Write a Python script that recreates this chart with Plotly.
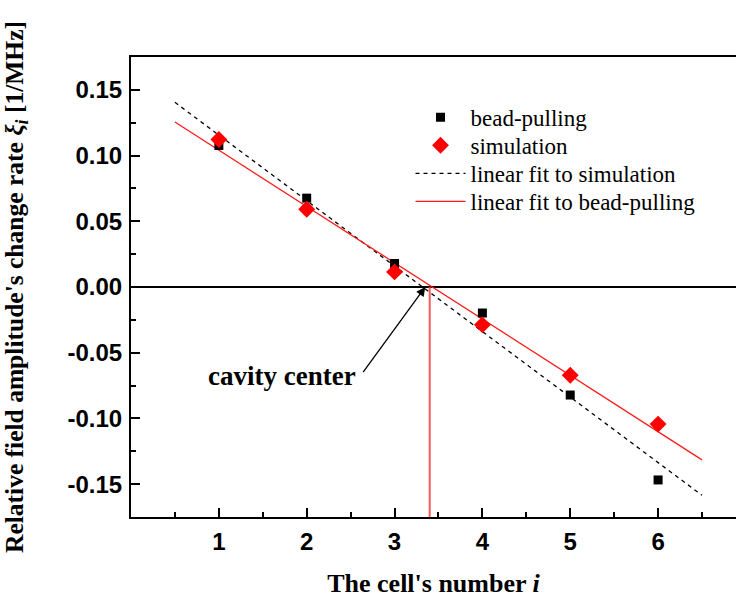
import plotly.graph_objects as go

# Cell index
cells = [1, 2, 3, 4, 5, 6]

# Relative field amplitude change rate per cell [1/MHz]
bead_pulling = [0.1077, 0.0676, 0.0179, -0.0198, -0.0822, -0.1468]
simulation = [0.1122, 0.0592, 0.0115, -0.0288, -0.0672, -0.1043]

# Linear fit lines, evaluated at both ends of the fit span
fit_x = [0.5, 6.5]
fit_sim_y = [0.1405, -0.1585]
fit_bead_y = [0.1255, -0.1315]

# Position of the cavity center along the cell axis
cavity_center_x = 3.4

y_ticks = [-0.15, -0.10, -0.05, 0.00, 0.05, 0.10, 0.15]
y_tick_text = ["-0.15", "-0.10", "-0.05", "0.00", "0.05", "0.10", "0.15"]
x_ticks = [1, 2, 3, 4, 5, 6]

serif = "Liberation Serif"
sans = "Liberation Sans"

fig = go.Figure()

fig.add_trace(go.Scatter(
    x=fit_x, y=fit_sim_y, mode="lines", name="linear fit to simulation",
    line=dict(color="black", width=1.3, dash="4px,4px"), legend="legend3",
))
fig.add_trace(go.Scatter(
    x=fit_x, y=fit_bead_y, mode="lines", name="linear fit to bead-pulling",
    line=dict(color="#ff1a1a", width=1.3), legend="legend4",
))
fig.add_trace(go.Scatter(
    x=cells, y=bead_pulling, mode="markers", name="bead-pulling",
    marker=dict(symbol="square", size=9, color="black"), legend="legend",
))
fig.add_trace(go.Scatter(
    x=cells, y=simulation, mode="markers", name="simulation",
    marker=dict(symbol="diamond", size=13, color="#ff0000"), legend="legend2",
))

# Vertical marker dropping from the zero line at the cavity center
fig.add_shape(type="line", x0=cavity_center_x, x1=cavity_center_x,
              y0=-0.175, y1=0, xref="x", yref="y",
              line=dict(color="rgba(255,70,70,0.9)", width=2))

# Arrow pointing at the cavity center
fig.add_annotation(x=3.35, y=0.0, ax=2.63, ay=-0.066, xref="x", yref="y",
                   axref="x", ayref="y", text="", showarrow=True,
                   arrowhead=2, arrowsize=1.4, arrowwidth=1.3,
                   arrowcolor="black")
fig.add_annotation(x=2.58, y=-0.068, xref="x", yref="y", text="<b>cavity center</b>",
                   showarrow=False, xanchor="right", yanchor="middle",
                   font=dict(family=serif, size=27, color="black"))

# One legend box per entry so the row spacing can be set freely
legend_style = dict(x=0.462, xanchor="left", yanchor="middle",
                    bgcolor="rgba(0,0,0,0)", borderwidth=0,
                    font=dict(family=serif, size=23, color="black"),
                    itemwidth=50)
legend_rows = {"legend": 0.869, "legend2": 0.808, "legend3": 0.747, "legend4": 0.686}

fig.update_layout(
    width=736, height=598,
    margin=dict(l=131, r=0, t=57, b=81),
    paper_bgcolor="white", plot_bgcolor="white",
    showlegend=True,
    **{name: dict(legend_style, y=row) for name, row in legend_rows.items()},
)

fig.update_xaxes(
    range=[0, 6.887], tickvals=x_ticks, ticks="inside", ticklen=9, tickwidth=2,
    tickcolor="black", showline=True, linewidth=2, linecolor="black",
    mirror=True, showgrid=False, zeroline=False,
    tickfont=dict(family=sans, size=24, color="black", weight="bold"),
    ticklabelstandoff=2,
    minor=dict(tickvals=[0.5, 1.5, 2.5, 3.5, 4.5, 5.5, 6.5], ticks="inside",
               ticklen=5, tickwidth=1.5, tickcolor="black", showgrid=False),
    title=dict(text="<b>The cell's number <i>i</i></b>",
               font=dict(family=serif, size=26, color="black"), standoff=22),
)

fig.update_yaxes(
    range=[-0.175, 0.175], tickvals=y_ticks, ticktext=y_tick_text,
    ticks="inside", ticklen=9, tickwidth=2, tickcolor="black",
    showline=True, linewidth=2, linecolor="black", mirror=False,
    showgrid=False, zeroline=True, zerolinecolor="black", zerolinewidth=2,
    tickfont=dict(family=sans, size=24, color="black", weight="bold"),
    ticklabelstandoff=2,
    minor=dict(tickvals=[-0.125, -0.075, -0.025, 0.025, 0.075, 0.125],
               ticks="inside", ticklen=5, tickwidth=1.5, tickcolor="black",
               showgrid=False),
    title=dict(text="<b>Relative field amplitude's change rate <i>ξ<sub>i</sub></i> [1/MHz]</b>",
               font=dict(family=serif, size=25.5, color="black"), standoff=38),
)

fig.write_html("out.html")
